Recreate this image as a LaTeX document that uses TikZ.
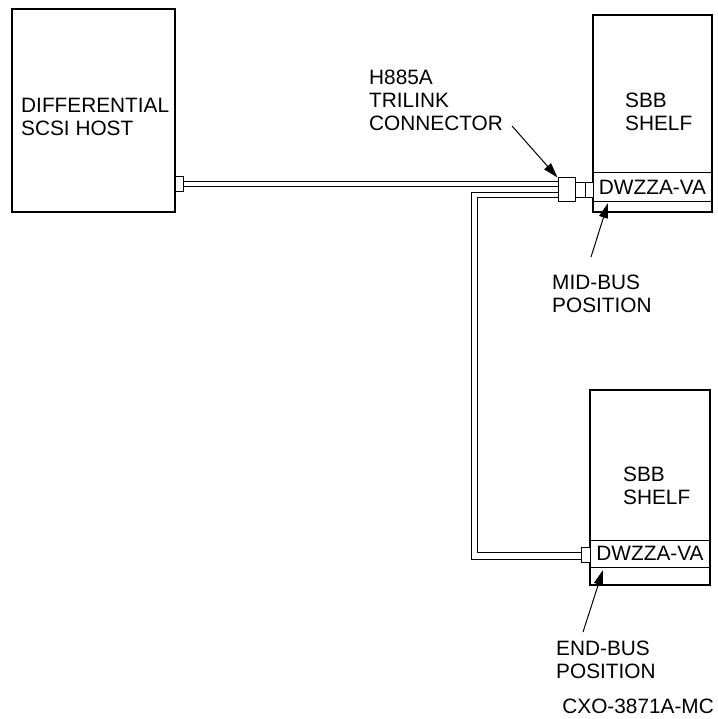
\documentclass[tikz,border=0pt]{standalone}
\usepackage{fontspec}
\setmainfont{Liberation Sans}
\usetikzlibrary{arrows.meta}
\begin{document}
\begin{tikzpicture}[x=1pt,y=-1pt,
  box/.style={draw, line width=1.8pt, inner sep=0pt},
  strip/.style={draw, line width=1pt, inner sep=0pt, font=\fontsize{20.8}{23}\selectfont},
  lbl/.style={inner sep=0pt, anchor=north west, align=left, font=\fontsize{20.8}{23}\selectfont},
  cable/.style={line width=1pt},
  conn/.style={draw, line width=1pt, inner sep=0pt, fill=white},
  pointer/.style={line width=1pt, -{Triangle[length=15pt,width=9pt]}}]
\useasboundingbox (0,0) rectangle (717,719);

% boxes
\node[box, minimum width=163pt, minimum height=203pt] (host) at (93.5,110.5) {};
\node[box, minimum width=119pt, minimum height=197pt] (mid) at (652.5,113.5) {};
\node[box, minimum width=120pt, minimum height=195pt] (endb) at (650,487.5) {};
\node[strip, minimum width=119pt, minimum height=29pt] (midstrip) at (652.5,187.5) {DWZZA-VA};
\node[strip, minimum width=120pt, minimum height=27pt] (endstrip) at (650,553.5) {DWZZA-VA};

% labels
\node[lbl] (hostlbl) at (21,97.7) {DIFFERENTIAL\\SCSI HOST};
\node[lbl] (midlbl) at (625,92.7) {SBB\\SHELF};
\node[lbl] (endlbl) at (623,466.7) {SBB\\SHELF};
\node[lbl] (trilbl) at (369,69.7) {H885A\\TRILINK\\CONNECTOR};
\node[lbl] (midbus) at (552,274.7) {MID-BUS\\POSITION};
\node[lbl] (endbus) at (556,640.7) {END-BUS\\POSITION};
\node[inner sep=0pt, anchor=east, font=\fontsize{20.8}{23}\selectfont] (fig) at (714,706) {CXO-3871A-MC};

% connectors
\node[conn, minimum width=8pt, minimum height=15pt] (hoststub) at (179,184.5) {};
\node[conn, minimum width=17pt, minimum height=24pt] (tri) at (566.5,190) {};
\node[conn, minimum width=18pt, minimum height=15pt] (tristub) at (584,190.5) {};
\draw[line width=1pt] (tristub.north) ++(1,0) coordinate (d1) -- (d1 |- tristub.south);
\node[conn, minimum width=9pt, minimum height=15pt] (endstub) at (585.5,554.5) {};

% row coordinates
\coordinate (r1) at (0,182);
\coordinate (r2) at (0,187);
\coordinate (r3) at (0,193);
\coordinate (r4) at (0,198);
\coordinate (vo) at (471,0);
\coordinate (vi) at (477,0);
\coordinate (b1) at (0,552);
\coordinate (b2) at (0,559);

% cables
\draw[cable] (hoststub.east |- r1) -- (tri.west |- r1);
\draw[cable] (hoststub.east |- r2) -- (tri.west |- r2);
\draw[cable] (tri.west |- r3) -- (vo |- r3) -- (vo |- b2) -- (endstub.west |- b2);
\draw[cable] (tri.west |- r4) -- (vi |- r4) -- (vi |- b1) -- (endstub.west |- b1);

% pointers
\coordinate (tritail) at (512,126);
\coordinate (midtail) at (591,257);
\coordinate (midtip) at (608,203);
\coordinate (endtail) at (583,632);
\coordinate (endtip) at (603,570);
\draw[pointer] (tritail) -- (tri.north west);
\draw[pointer] (midtail) -- (midtip);
\draw[pointer] (endtail) -- (endtip);
\end{tikzpicture}
\end{document}
